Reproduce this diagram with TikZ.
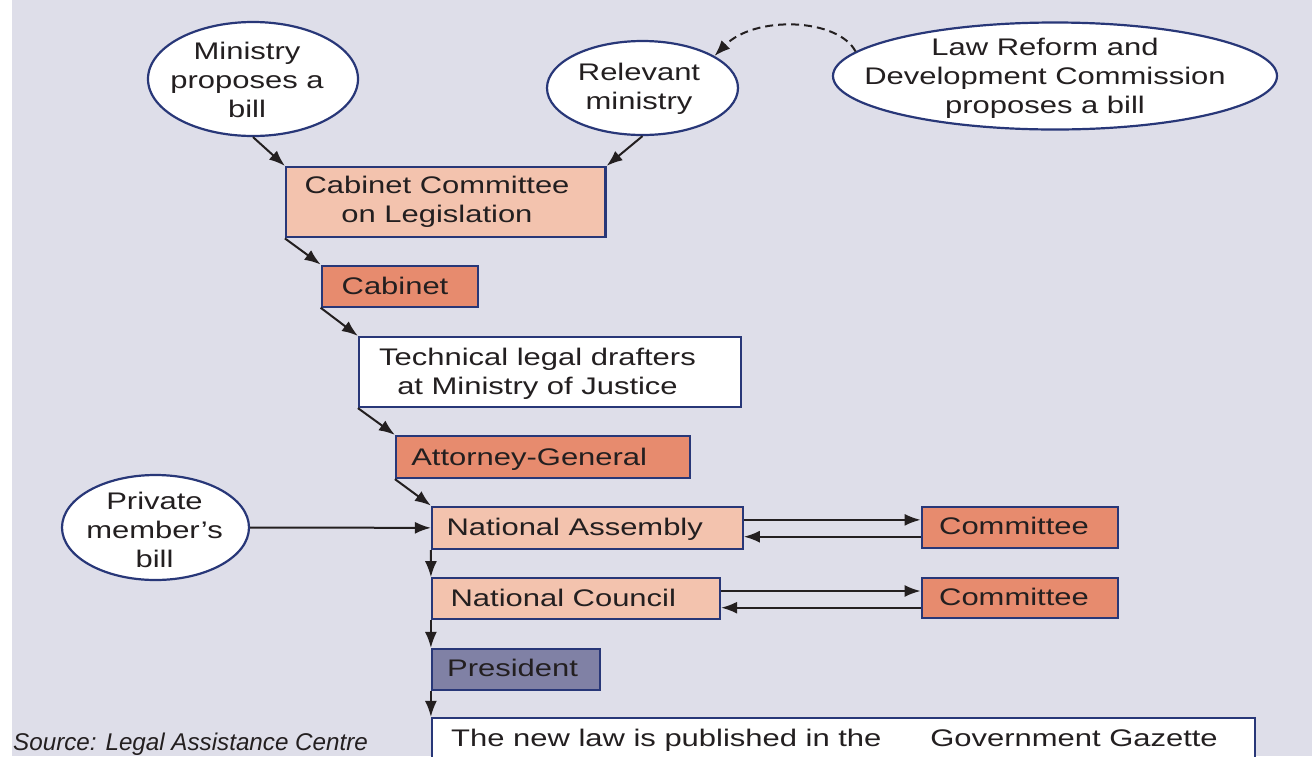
\documentclass[tikz,border=0pt]{standalone}
\usepackage{fontspec}
\setmainfont{Liberation Sans}[FakeStretch=1.29]
\newfontfamily\plainsans{Liberation Sans}
\usetikzlibrary{arrows.meta,shapes.geometric}
\definecolor{bgcol}{HTML}{DEDEE9}
\definecolor{light}{HTML}{F3C3AE}
\definecolor{dark}{HTML}{E78B6E}
\definecolor{pres}{HTML}{8081A5}
\definecolor{navy}{HTML}{283778}
\definecolor{ink}{HTML}{231F20}
\begin{document}
\begin{tikzpicture}[x=1pt,y=-1pt,
  txt/.style={inner sep=0pt, text=ink, font=\fontsize{24}{29}\selectfont, align=center},
  box/.style={draw=navy, line width=2.2pt, inner sep=0pt},
  oval/.style={ellipse, draw=navy, fill=white, line width=2.2pt, inner sep=0pt},
  arr/.style={draw=ink, line width=2pt, -{Latex[length=16pt,width=12pt]}},
]
\useasboundingbox (0,0) rectangle (1312,756);
\clip (0,0) rectangle (1312,756);
\fill[white] (0,0) rectangle (1312,756);
\fill[bgcol] (12.3,0) rectangle (1312,756);

% ellipses
\node[oval, minimum width=210pt, minimum height=114pt] (min) at (253,79) {};
\node[oval, minimum width=191pt, minimum height=94pt] (rel) at (642.5,88) {};
\node[oval, minimum width=444pt, minimum height=107pt] (lrdc) at (1055,76) {};
\node[oval, minimum width=187pt, minimum height=105pt] (prv) at (155.5,527.5) {};

% boxes
\node[box, fill=light, minimum width=319.5pt, minimum height=70.3pt] (ccl) at (445.75,202.15) {};
\node[box, fill=dark, minimum width=156pt, minimum height=41pt] (cab) at (399.7,286.1) {};
\node[box, fill=white, minimum width=382pt, minimum height=70pt] (tech) at (550,372) {};
\node[box, fill=dark, minimum width=294pt, minimum height=42pt] (ag) at (543,457) {};
\node[box, fill=light, minimum width=310.7pt, minimum height=42.3pt] (na) at (587.35,527.85) {};
\node[box, fill=dark, minimum width=196pt, minimum height=41pt] (com1) at (1019.7,527.2) {};
\node[box, fill=light, minimum width=288pt, minimum height=41pt] (nc) at (576,598.8) {};
\node[box, fill=dark, minimum width=196pt, minimum height=40.6pt] (com2) at (1019.7,598) {};
\node[box, fill=pres, minimum width=168pt, minimum height=41pt] (pr) at (516,669.5) {};
\node[box, fill=white, minimum width=823pt, minimum height=62pt] (law) at (843.5,749) {};

% connectors
\draw[arr] (min.south) -- (ccl.north west);
\draw[arr] (rel.south) -- (ccl.north east);
\draw[arr] (ccl.south west) -- (cab.north west);
\draw[arr] (cab.south west) -- (tech.north west);
\draw[arr] (tech.south west) -- (ag.north west);
\draw[arr] (ag.south west) -- (na.north west);
\draw[arr] (prv.east) -- (na.west);
\draw[arr] (na.south west) -- (nc.north west);
\draw[arr] (nc.south west) -- (pr.north west);
\draw[arr] (pr.south west) -- (law.north west);
\draw[arr] ([yshift=8pt]na.east) -- ([yshift=8pt]na.east -| com1.west);
\draw[arr] ([yshift=-9.5pt]com1.west) -- ([yshift=-9.5pt]com1.west -| na.east);
\draw[arr] ([yshift=7.8pt]nc.east) -- ([yshift=7.8pt]nc.east -| com2.west);
\draw[arr] ([yshift=-9.7pt]com2.west) -- ([yshift=-9.7pt]com2.west -| nc.east);
\draw[arr, dash pattern=on 8pt off 5pt] (lrdc.173) .. controls (838,18) and (755,15) .. (rel.24);

% texts
\node[txt] (tmin) at (247,79.75) {Ministry\\proposes a\\bill};
\node[txt] (trel) at (639,89.25) {Relevant\\ministry};
\node[txt] (tlrdc) at (1045,78.75) {Law Reform and\\Development Commission\\proposes a bill};
\node[txt] (tprv) at (154.5,529.75) {Private\\member’s\\bill};
\node[txt] (tccl) at (437,202.25) {Cabinet Committee\\on Legislation};
\node[txt, anchor=base] (tcab) at (395,294.3) {Cabinet};
\node[txt] (ttech) at (537.5,374.1) {Technical legal drafters\\at Ministry of Justice};
\node[txt, anchor=base] (tag) at (529.2,465) {Attorney-General};
\node[txt, anchor=base] (tna) at (574.7,535.7) {National Assembly};
\node[txt, anchor=base] (tcom1) at (1014,534) {Committee};
\node[txt, anchor=base] (tnc) at (563.3,606.7) {National Council};
\node[txt, anchor=base] (tcom2) at (1014,605.7) {Committee};
\node[txt, anchor=base] (tpr) at (512.5,676.7) {President};
\node[txt, anchor=base west] (tlaw) at (451,746) {The new law is published in the\hspace{49pt}Government Gazette};
\node[inner sep=0pt, text=ink, anchor=base west, font=\plainsans\itshape\fontsize{24.2}{29}\selectfont] (src) at (13,750.5) {Source: Legal Assistance Centre};
\end{tikzpicture}
\end{document}
